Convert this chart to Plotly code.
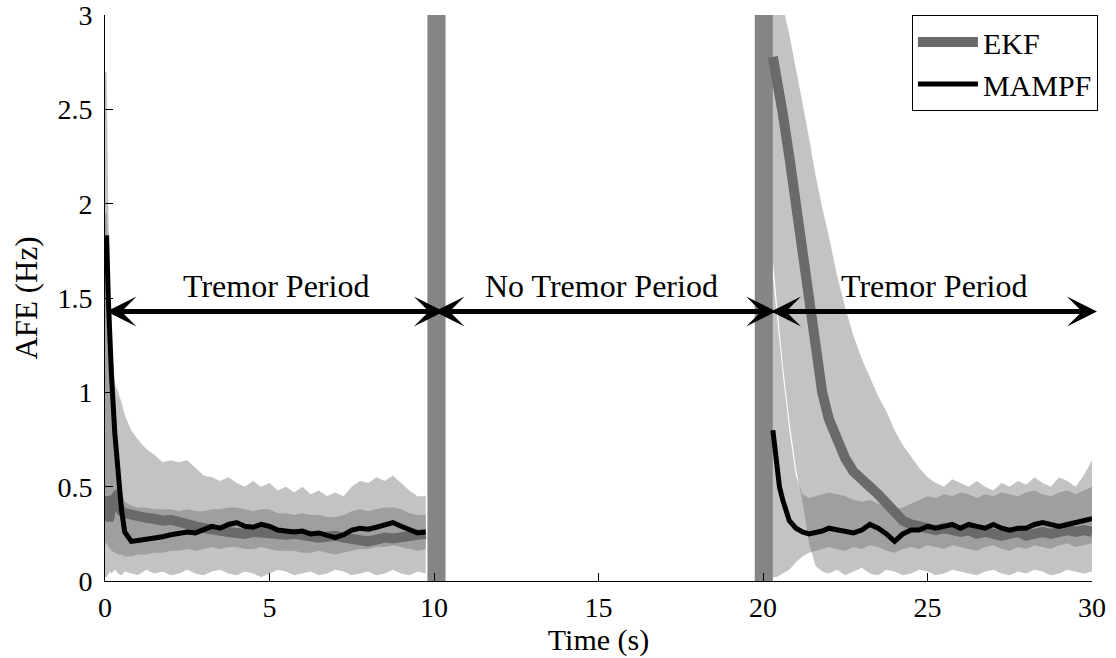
import plotly.graph_objects as go

# ---------------- data ----------------
# tremor period 1 (0 - 10 s)
t1 = [0, 0.05, 0.1, 0.15, 0.2, 0.3, 0.4, 0.5, 0.6, 0.8,
      1.0, 1.25, 1.5, 1.75, 2.0, 2.25, 2.5, 2.75, 3.0, 3.25, 3.5, 3.75,
      4.0, 4.25, 4.5, 4.75, 5.0, 5.25, 5.5, 5.75, 6.0, 6.25, 6.5, 6.75,
      7.0, 7.25, 7.5, 7.75, 8.0, 8.25, 8.5, 8.75, 9.0, 9.25, 9.5, 9.75]
mampf1 = [1.82, 1.82, 1.5, 1.2, 1.08, 0.78, 0.55, 0.38, 0.26, 0.21,
          0.215, 0.22, 0.225, 0.235, 0.245, 0.25, 0.26, 0.255, 0.27, 0.29, 0.28, 0.3,
          0.31, 0.29, 0.285, 0.3, 0.29, 0.27, 0.265, 0.26, 0.265, 0.25, 0.255, 0.24,
          0.23, 0.245, 0.27, 0.28, 0.275, 0.285, 0.3, 0.31, 0.29, 0.27, 0.255, 0.26]
ekf1 = [0.45, 0.38, 0.32, 0.35, 0.42, 0.44, 0.4, 0.37, 0.36, 0.35,
        0.34, 0.335, 0.33, 0.32, 0.325, 0.31, 0.3, 0.29, 0.28, 0.27, 0.265, 0.26,
        0.255, 0.25, 0.26, 0.255, 0.245, 0.24, 0.245, 0.25, 0.24, 0.235, 0.23, 0.235,
        0.24, 0.23, 0.22, 0.215, 0.21, 0.22, 0.23, 0.225, 0.235, 0.24, 0.245, 0.25]
ekf_hi1 = [2.7, 2.7, 2.0, 1.5, 1.25, 1.05, 1.0, 0.95, 0.88, 0.8,
           0.75, 0.7, 0.67, 0.63, 0.64, 0.63, 0.64, 0.6, 0.56, 0.55, 0.53, 0.55,
           0.52, 0.5, 0.53, 0.5, 0.52, 0.48, 0.5, 0.47, 0.5, 0.46, 0.48, 0.45,
           0.47, 0.45, 0.5, 0.53, 0.52, 0.55, 0.53, 0.56, 0.52, 0.48, 0.45, 0.45]
ekf_lo1 = [0.02, 0.02, 0.03, 0.05, 0.04, 0.06, 0.04, 0.03, 0.05, 0.04,
           0.03, 0.06, 0.04, 0.05, 0.03, 0.04, 0.06, 0.04, 0.03, 0.05, 0.06, 0.04,
           0.03, 0.05, 0.04, 0.02, 0.04, 0.06, 0.05, 0.03, 0.04, 0.05, 0.03, 0.04,
           0.06, 0.05, 0.03, 0.04, 0.05, 0.03, 0.04, 0.06, 0.04, 0.03, 0.05, 0.04]
mampf_hi1 = [1.95, 1.95, 1.7, 1.4, 1.22, 0.85, 0.6, 0.48, 0.42, 0.4,
             0.39, 0.39, 0.38, 0.38, 0.38, 0.37, 0.38, 0.37, 0.37, 0.38, 0.38, 0.39,
             0.39, 0.38, 0.37, 0.38, 0.38, 0.36, 0.36, 0.35, 0.36, 0.35, 0.35, 0.34,
             0.34, 0.35, 0.37, 0.38, 0.37, 0.38, 0.39, 0.39, 0.38, 0.36, 0.35, 0.35]
mampf_lo1 = [0.2, 0.2, 0.18, 0.17, 0.16, 0.15, 0.14, 0.14, 0.13, 0.13,
             0.14, 0.14, 0.15, 0.15, 0.16, 0.16, 0.17, 0.16, 0.17, 0.18, 0.17, 0.18,
             0.18, 0.17, 0.17, 0.18, 0.17, 0.16, 0.16, 0.16, 0.15, 0.15, 0.16, 0.15,
             0.14, 0.15, 0.16, 0.17, 0.17, 0.18, 0.18, 0.19, 0.18, 0.17, 0.16, 0.17]

# tremor period 2 (20 - 30 s)
t2 = [20.3, 20.4, 20.5, 20.6, 20.8, 21.0, 21.2, 21.4, 21.6, 21.8, 22.0,
      22.25, 22.5, 22.75, 23.0, 23.25, 23.5, 23.75, 24.0, 24.25, 24.5, 24.75,
      25.0, 25.25, 25.5, 25.75, 26.0, 26.25, 26.5, 26.75, 27.0, 27.25, 27.5, 27.75,
      28.0, 28.25, 28.5, 28.75, 29.0, 29.25, 29.5, 29.75, 30.0]
ekf2 = [2.78, 2.7, 2.6, 2.48, 2.25, 1.98, 1.72, 1.48, 1.22, 1.0, 0.86,
        0.74, 0.65, 0.58, 0.53, 0.5, 0.46, 0.41, 0.36, 0.32, 0.3, 0.29,
        0.28, 0.27, 0.28, 0.27, 0.26, 0.27, 0.25, 0.26, 0.25, 0.24, 0.25, 0.26,
        0.24, 0.25, 0.26, 0.25, 0.26, 0.27, 0.26, 0.27, 0.26]
mampf2 = [0.8, 0.62, 0.5, 0.43, 0.32, 0.28, 0.26, 0.25, 0.255, 0.265, 0.28,
          0.27, 0.26, 0.255, 0.27, 0.3, 0.28, 0.25, 0.21, 0.25, 0.27, 0.27,
          0.29, 0.28, 0.29, 0.3, 0.28, 0.3, 0.29, 0.28, 0.3, 0.28, 0.27, 0.28,
          0.28, 0.3, 0.31, 0.3, 0.29, 0.3, 0.31, 0.32, 0.33]
ekf_hi2 = [3.3, 3.25, 3.15, 3.05, 2.9, 2.72, 2.52, 2.35, 2.15, 1.98, 1.83,
           1.62, 1.45, 1.3, 1.18, 1.08, 0.98, 0.9, 0.8, 0.72, 0.66, 0.6,
           0.55, 0.52, 0.5, 0.54, 0.52, 0.5, 0.53, 0.5, 0.48, 0.52, 0.5, 0.53,
           0.51, 0.55, 0.52, 0.5, 0.55, 0.53, 0.5, 0.56, 0.64]
ekf_lo2 = [1.7, 1.5, 1.33, 1.15, 0.85, 0.6, 0.42, 0.2, 0.08, 0.05, 0.04,
           0.06, 0.03, 0.05, 0.07, 0.04, 0.03, 0.06, 0.05, 0.03, 0.04, 0.06,
           0.05, 0.03, 0.04, 0.06, 0.05, 0.04, 0.03, 0.05, 0.06, 0.04, 0.03, 0.05,
           0.04, 0.06, 0.05, 0.03, 0.04, 0.06, 0.05, 0.04, 0.05]
mampf_hi2 = [1.62, 1.44, 1.27, 1.1, 0.8, 0.56, 0.46, 0.44, 0.45, 0.46, 0.47,
             0.46, 0.45, 0.43, 0.42, 0.43, 0.41, 0.4, 0.38, 0.39, 0.41, 0.43,
             0.45, 0.44, 0.46, 0.45, 0.47, 0.46, 0.44, 0.46, 0.45, 0.47, 0.46, 0.45,
             0.47, 0.48, 0.46, 0.45, 0.47, 0.48, 0.46, 0.48, 0.5]
mampf_lo2 = [0.02, 0.02, 0.03, 0.04, 0.06, 0.1, 0.13, 0.15, 0.16, 0.17, 0.18,
             0.17, 0.16, 0.18, 0.17, 0.19, 0.18, 0.16, 0.15, 0.17, 0.18, 0.17,
             0.19, 0.18, 0.17, 0.19, 0.18, 0.17, 0.16, 0.18, 0.19, 0.17, 0.16, 0.18,
             0.17, 0.19, 0.18, 0.17, 0.19, 0.2, 0.18, 0.19, 0.2]

# transition (re-initialisation) bands and period annotations
trans_bands = [(9.8, 10.35), (19.75, 20.3)]
period_labels = ["Tremor Period", "No Tremor Period", "Tremor Period"]
period_label_x = [5.2, 15.1, 25.2]
period_arrows = [(0.0, 10.3), (9.97, 20.4), (20.2, 30.15)]
arrow_y = 1.43
label_y = 1.565
y_ticks = [0, 0.5, 1, 1.5, 2, 2.5, 3]
y_ticktext = ["0", "0.5", "1", "1.5", "2", "2.5", "3"]
x_ticks = [0, 5, 10, 15, 20, 25, 30]

for arr in (mampf1, ekf1, ekf_hi1, ekf_lo1, mampf_hi1, mampf_lo1):
    assert len(arr) == len(t1)
for arr in (mampf2, ekf2, ekf_hi2, ekf_lo2, mampf_hi2, mampf_lo2):
    assert len(arr) == len(t2)

FONT = "Liberation Serif, Times New Roman, DejaVu Serif, serif"
band_fill = "rgba(105,105,105,0.40)"


def band_polygon(ts, his, los):
    xs, ys = [], []
    for t, hi, lo in zip(ts, his, los):
        xs += t + t[::-1] + [t[0], None]
        ys += hi + lo[::-1] + [hi[0], None]
    return xs, ys


fig = go.Figure()

ex, ey = band_polygon([t1, t2], [ekf_hi1, ekf_hi2], [ekf_lo1, ekf_lo2])
fig.add_trace(go.Scatter(x=ex, y=ey, fill="toself", fillcolor=band_fill,
                         line=dict(width=0), mode="lines", showlegend=False,
                         hoverinfo="skip"))
mx, my = band_polygon([t1, t2], [mampf_hi1, mampf_hi2], [mampf_lo1, mampf_lo2])
fig.add_trace(go.Scatter(x=mx, y=my, fill="toself", fillcolor=band_fill,
                         line=dict(width=0), mode="lines", showlegend=False,
                         hoverinfo="skip"))

fig.add_trace(go.Scatter(x=t1 + [None] + t2, y=ekf1 + [None] + ekf2,
                         mode="lines", name="EKF",
                         line=dict(color="#6a6a6a", width=10)))
fig.add_trace(go.Scatter(x=t1 + [None] + t2, y=mampf1 + [None] + mampf2,
                         mode="lines", name="MAMPF",
                         line=dict(color="black", width=5)))

for x0, x1 in trans_bands:
    fig.add_vrect(x0=x0, x1=x1, fillcolor="#858585", line_width=0,
                  layer="below", opacity=1)

for (xa, xb), lab, lx in zip(period_arrows, period_labels, period_label_x):
    fig.add_annotation(x=xb, y=arrow_y, ax=xa, ay=arrow_y, xref="x", yref="y",
                       axref="x", ayref="y", showarrow=True, text="",
                       arrowhead=3, startarrowhead=3, arrowside="end+start",
                       arrowwidth=5, arrowsize=1.0, startarrowsize=1.0,
                       arrowcolor="black")
    fig.add_annotation(x=lx, y=label_y, xref="x", yref="y", text=lab,
                       showarrow=False, font=dict(family=FONT, size=32, color="black"))

fig.update_layout(
    width=1116, height=658,
    margin=dict(l=105, r=24, t=15, b=77),
    paper_bgcolor="white", plot_bgcolor="white",
    font=dict(family=FONT, size=28, color="black"),
    legend=dict(x=1.006, y=1.0, xanchor="right", yanchor="top",
                bgcolor="white", bordercolor="black", borderwidth=1,
                font=dict(family=FONT, size=30, color="black"),
                itemwidth=60, tracegroupgap=0),
    xaxis=dict(range=[0, 30], tickvals=x_ticks,
               ticks="inside", ticklen=8, tickcolor="black",
               showline=True, linecolor="black", linewidth=1, mirror=False,
               showgrid=False, zeroline=False, ticklabelstandoff=1,
               automargin=False,
               tickfont=dict(family=FONT, size=28),
               title=dict(text="Time (s)", font=dict(family=FONT, size=30), standoff=0)),
    yaxis=dict(range=[0, 3.002], tickvals=y_ticks, ticktext=y_ticktext,
               ticks="inside", ticklen=8, tickcolor="black",
               showline=True, linecolor="black", linewidth=1, mirror=False,
               showgrid=False, zeroline=False, ticklabelstandoff=6,
               automargin=False, ticklabeloverflow="allow",
               tickfont=dict(family=FONT, size=28),
               title=dict(text="AFE (Hz)", font=dict(family=FONT, size=31), standoff=10)),
)

fig.write_html("out.html")
